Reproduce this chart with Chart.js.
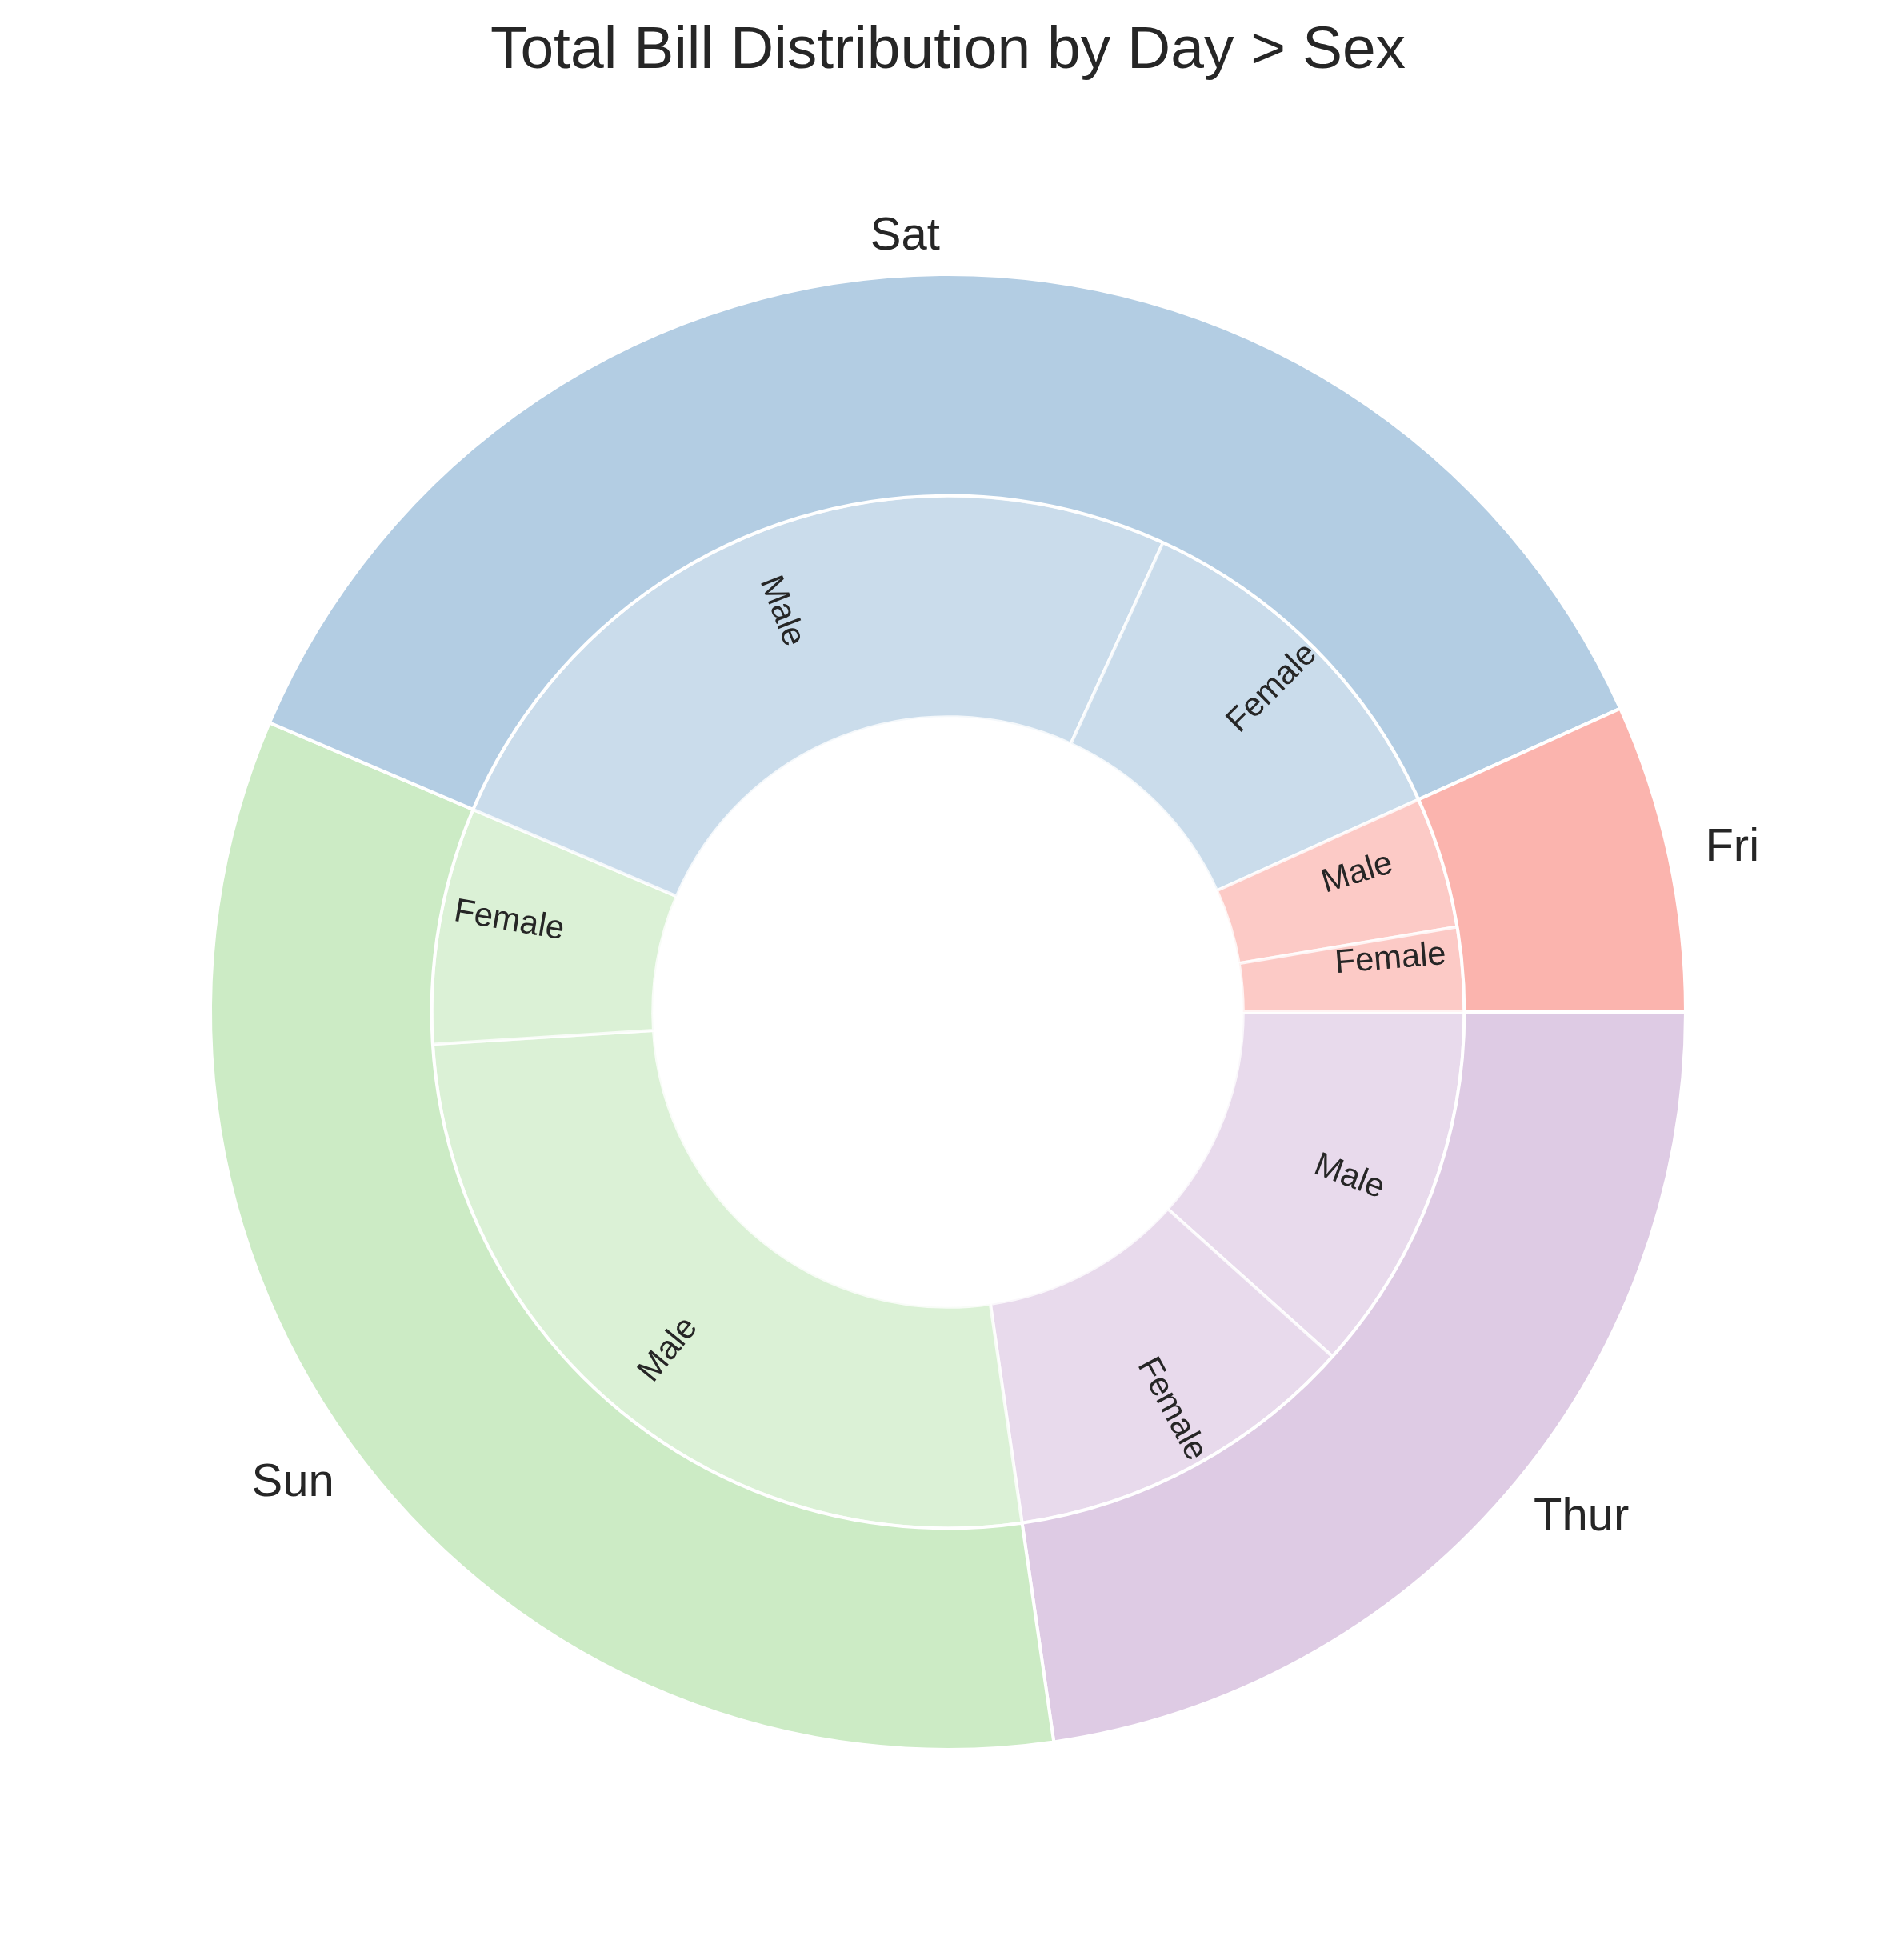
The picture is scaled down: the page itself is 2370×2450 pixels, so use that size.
<!DOCTYPE html>
<html>
<head>
<meta charset="utf-8">
<script src="https://cdn.jsdelivr.net/npm/chart.js@4.4.1/dist/chart.umd.min.js"></script>
<style>
    body { margin: 0; background: #ffffff; }
    canvas { display: block; }
</style>
</head>
<body>
<canvas id="sunburstChart" width="2370" height="2450"></canvas>
<script>
// Days in clockwise order starting at 3 o'clock (same as matplotlib's counter-clockwise from Fri)
const days = ['Thur', 'Sun', 'Sat', 'Fri'];
const dayTotals = [1096.33, 1627.16, 1778.40, 325.88];

// Inner ring: each day split into Male then Female (clockwise)
const sexLabels = ['Male', 'Female'];
const maleTotals = [561.44, 1269.46, 1227.35, 198.57];
const femaleTotals = [534.89, 357.70, 551.05, 127.31];

// Pastel1 colours per day
const dayColors = ['#decbe4', '#ccebc5', '#b3cde3', '#fbb4ae'];

const TEXT_COLOR = '#262626';
const FONT = '"Liberation Sans", Arial, sans-serif';

// Build the inner ring arrays from the day lists
const innerValues = [];
const innerLabels = [];
const innerColors = [];
days.forEach((day, i) => {
    innerValues.push(maleTotals[i], femaleTotals[i]);
    innerLabels.push(sexLabels[0], sexLabels[1]);
    const c = dayColors[i];
    const r = parseInt(c.slice(1, 3), 16);
    const g = parseInt(c.slice(3, 5), 16);
    const b = parseInt(c.slice(5, 7), 16);
    const fill = `rgba(${r}, ${g}, ${b}, 0.7)`;
    innerColors.push(fill, fill);
});

// Place a (possibly rotated) text the way matplotlib aligns its rotated bbox
function placeText(ctx, cx, cy, text, ax, ay, rotDeg, ha, va, fs) {
    ctx.font = `${fs}px ${FONT}`;
    const w = ctx.measureText(text).width;
    const h = 0.926 * fs;
    const rad = rotDeg * Math.PI / 180;
    const W = Math.abs(w * Math.cos(rad)) + Math.abs(h * Math.sin(rad));
    const H = Math.abs(w * Math.sin(rad)) + Math.abs(h * Math.cos(rad));
    let mx = ax, my = ay;
    if (ha === 'left') mx = ax + W / 2;
    if (ha === 'right') mx = ax - W / 2;
    if (va === 'bottom') my = ay + H / 2;
    if (va === 'top') my = ay - H / 2;
    ctx.save();
    ctx.translate(cx + mx, cy - my);
    ctx.rotate(-rad);
    ctx.fillStyle = TEXT_COLOR;
    ctx.textAlign = 'left';
    ctx.textBaseline = 'alphabetic';
    ctx.fillText(text, -w / 2, 0.253 * fs);
    ctx.restore();
}

const sunburstLabels = {
    id: 'sunburstLabels',
    afterDatasetsDraw(chart) {
        const ctx = chart.ctx;
        const outerArcs = chart.getDatasetMeta(0).data;
        const innerArcs = chart.getDatasetMeta(1).data;
        const R = outerArcs[0].outerRadius;
        const cx = outerArcs[0].x;
        const cy = outerArcs[0].y;

        // outer labels (days), horizontal, just outside the ring
        outerArcs.forEach((arc, i) => {
            const mid = (arc.startAngle + arc.endAngle) / 2;
            const theta = -mid;
            const r = 1.05 * R;
            const ax = r * Math.cos(theta);
            const ay = r * Math.sin(theta);
            placeText(ctx, cx, cy, days[i], ax, ay, 0, ax > 0 ? 'left' : 'right', 'center', 58);
        });

        // inner labels (sex), rotated along the radius
        innerArcs.forEach((arc, i) => {
            const mid = (arc.startAngle + arc.endAngle) / 2;
            const theta = -mid;
            let deg = (theta * 180 / Math.PI) % 360;
            if (deg < 0) deg += 360;
            const r = 0.525 * R;
            const ax = r * Math.cos(theta);
            const ay = r * Math.sin(theta);
            const rot = deg + (ax > 0 ? 0 : 180);
            placeText(ctx, cx, cy, innerLabels[i], ax, ay, rot,
                ax > 0 ? 'left' : 'right', ay > 0 ? 'bottom' : 'top', 41.7);
        });

        // title
        ctx.save();
        ctx.font = `75px ${FONT}`;
        ctx.fillStyle = TEXT_COLOR;
        ctx.textAlign = 'center';
        ctx.textBaseline = 'alphabetic';
        ctx.fillText('Total Bill Distribution by Day > Sex', 1185, 85);
        ctx.restore();
    }
};

new Chart(document.getElementById('sunburstChart'), {
    type: 'doughnut',
    data: {
        labels: innerLabels,
        datasets: [
            {
                label: 'Day',
                data: dayTotals,
                backgroundColor: dayColors,
                borderColor: '#ffffff',
                borderWidth: 4
            },
            {
                label: 'Sex',
                data: innerValues,
                backgroundColor: innerColors,
                borderColor: 'rgba(255, 255, 255, 0.8)',
                borderWidth: 4
            }
        ]
    },
    options: {
        responsive: false,
        animation: false,
        rotation: 90,
        radius: 922,
        cutout: '40%',
        layout: {
            padding: { top: 120, bottom: 40, left: 0, right: 0 }
        },
        plugins: {
            legend: { display: false },
            tooltip: { enabled: false },
            title: { display: false }
        }
    },
    plugins: [sunburstLabels]
});
</script>
</body>
</html>
